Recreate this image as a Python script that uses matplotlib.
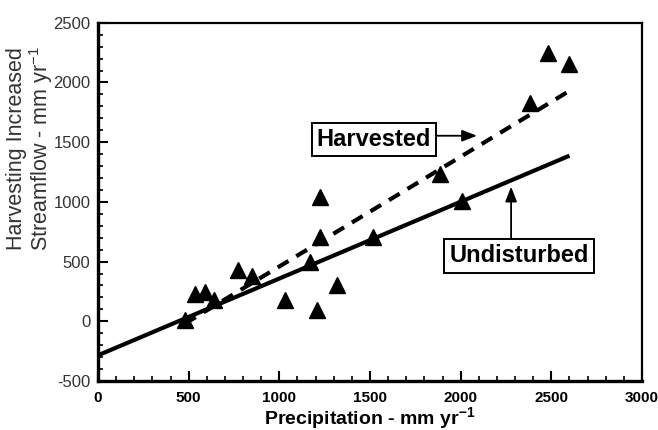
#!/usr/bin/env python
'''
Streamflow increase after harvesting vs precipitation, harvested and undisturbed fits.
'''
import matplotlib
matplotlib.use('Agg')
import matplotlib.pyplot as plt
import matplotlib.transforms as mtransforms
from matplotlib.ticker import MultipleLocator

plt.rcParams['font.family'] = ['Liberation Sans', 'DejaVu Sans']
plt.rcParams['mathtext.default'] = 'regular'
plt.rcParams['axes.unicode_minus'] = False

# observed points (precipitation, streamflow increase)
precip = [480, 535, 590, 640, 774, 851, 1031, 1169, 1206, 1224, 1224, 1320,
          1517, 1886, 2008, 2383, 2484, 2600]
streamflow = [8, 226, 245, 175, 426, 376, 175, 495, 97, 710, 1038, 300,
              702, 1234, 1011, 1832, 2250, 2153]

# fitted lines, end points
undisturbed_x = [0, 2600]
undisturbed_y = [-285, 1387]
harvested_x = [480, 2600]
harvested_y = [-19, 1930]

fig = plt.figure(figsize=(6.58, 4.30), dpi=100)
ax = fig.add_axes([0.149, 0.114, 0.8267, 0.833])

ax.plot(undisturbed_x, undisturbed_y, color='black', lw=3, solid_capstyle='butt')
ax.plot(harvested_x, harvested_y, color='black', lw=3, linestyle=(0, (3, 2.2)))
ax.plot(precip, streamflow, linestyle='none', marker='^', color='black', markersize=11)

ax.set_xlim(0, 3000)
ax.set_ylim(-500, 2500)
ax.xaxis.set_major_locator(MultipleLocator(500))
ax.xaxis.set_minor_locator(MultipleLocator(100))
ax.yaxis.set_major_locator(MultipleLocator(500))
ax.yaxis.set_minor_locator(MultipleLocator(100))
ax.tick_params(axis='both', which='both', direction='in', top=False, right=False)
ax.tick_params(axis='both', which='major', length=7, width=1.5)
ax.tick_params(axis='both', which='minor', length=3.5, width=1.2)
ax.tick_params(axis='x', pad=7, labelsize=11)
ax.tick_params(axis='y', pad=5.5, labelsize=12, labelcolor='#333333')
for side in ['left', 'bottom']:
    ax.spines[side].set_linewidth(2.4)
for side in ['top', 'right']:
    ax.spines[side].set_linewidth(1.6)

ax.set_xlabel(r'Precipitation - mm yr$^{-1}$', fontsize=14, fontweight='bold', labelpad=0)
ax.set_ylabel('Harvesting Increased\n' + r'Streamflow - mm yr$^{-1}$', fontsize=15.5,
              color='#333333', linespacing=1.0)
ax.yaxis.set_label_coords(-0.08, 0.65)

box = dict(boxstyle='square,pad=0.22', facecolor='white', edgecolor='black', lw=1.4)
arrow = dict(arrowstyle='-|>,head_length=0.9,head_width=0.35', color='black',
             lw=1.3, shrinkA=0, shrinkB=0)

ax.annotate('', xy=(2090, 1554), xytext=(1800, 1554), arrowprops=arrow)
ax.text(1522, 1520, 'Harvested', fontsize=17, fontweight='bold', ha='center',
        va='center', bbox=box, zorder=5)

ax.annotate('', xy=(2278, 1128), xytext=(2278, 600), arrowprops=arrow)
ax.text(2322, 547, 'Undisturbed', fontsize=17, fontweight='bold', ha='center',
        va='center', bbox=box, zorder=5)

# bold x tick labels, the last one nudged to stay inside the figure
xlabels = ax.get_xticklabels()
plt.setp(xlabels, fontweight='bold')
xlabels[-1].set_transform(xlabels[-1].get_transform()
                          + mtransforms.ScaledTranslation(-6 / 100, 0, fig.dpi_scale_trans))

fig.savefig('out.png', dpi=100)
